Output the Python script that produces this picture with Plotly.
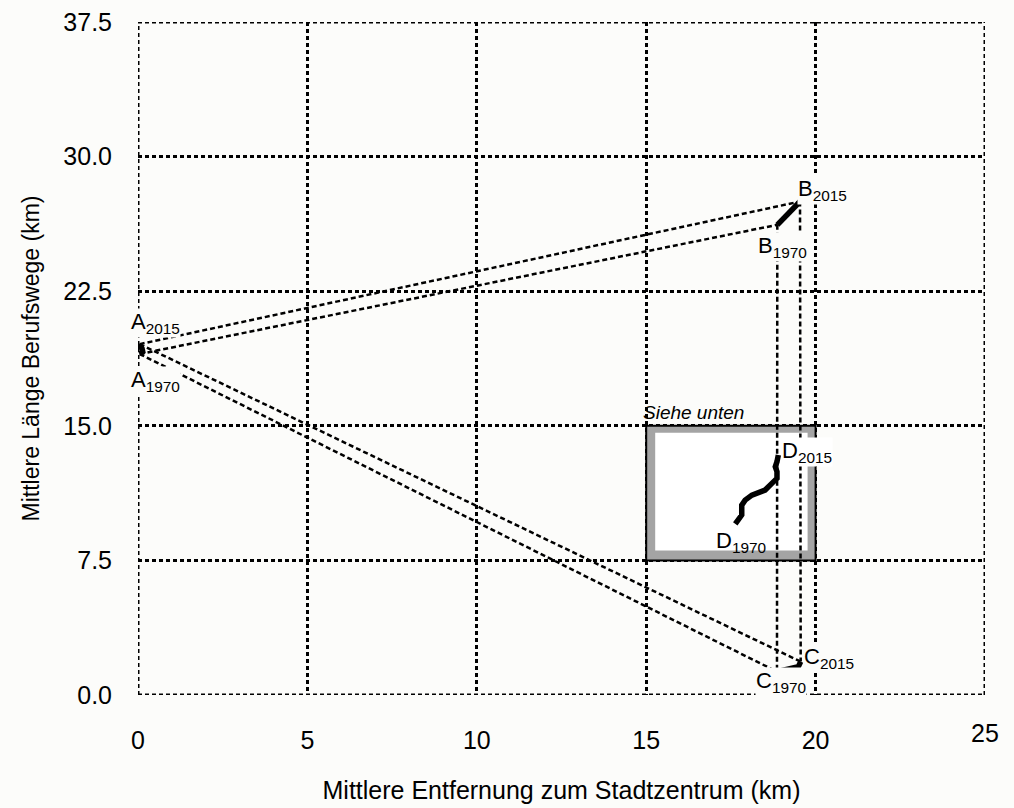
import plotly.graph_objects as go

# ---- data ----
a_x = [0.05, 0.14, 0.12, 0.04, 0.05]
a_y = [19.00, 19.12, 19.30, 19.45, 19.55]

b_x = [18.87, 19.00, 19.20, 19.35, 19.54]
b_y = [26.20, 26.45, 26.85, 27.15, 27.50]

c_x = [18.86, 19.25, 19.49, 19.56]
c_y = [1.30, 1.45, 1.58, 1.86]

d_x = [17.63, 17.82, 17.82, 17.92, 18.12, 18.31, 18.51, 18.71, 18.86, 18.86, 18.81, 18.86, 18.90]
d_y = [9.53, 10.03, 10.58, 10.86, 11.14, 11.24, 11.42, 11.79, 12.07, 12.44, 12.72, 13.00, 13.37]

box_x = [15, 20]
box_y = [7.5, 15]

x_tick_vals = [0, 5, 10, 15, 20, 25]
x_tick_text = ["0", "5", "10", "15", "20", ""]
y_tick_vals = [0, 7.5, 15, 22.5, 30, 37.5]
y_tick_text = ["0.0", "7.5", "15.0", "22.5", "30.0", "37.5"]

x_title = "Mittlere Entfernung zum Stadtzentrum (km)"
y_title = "Mittlere Länge Berufswege (km)"

BG = "#fcfcfa"
FONT = "Liberation Sans, Arial, sans-serif"
FS_TICK = 25
FS_XTITLE = 25
FS_YTITLE = 23
FS_LABEL = 22
GRID_DASH = "4px,3px"
GRID_W = 3

fig = go.Figure()

# connecting dashed lines (A->B, A->C, B->C)
dash = "5px,3px"
conn = [
    ((a_x[-1], a_y[-1]), (b_x[-1], b_y[-1])),
    ((a_x[0], a_y[0]), (b_x[0], b_y[0])),
    ((a_x[-1], a_y[-1]), (c_x[-1], c_y[-1])),
    ((a_x[0], a_y[0]), (c_x[0], c_y[0])),
    ((b_x[0], b_y[0]), (c_x[0], c_y[0])),
    ((b_x[-1], b_y[-1]), (c_x[-1], c_y[-1])),
]
for p, q in conn:
    fig.add_trace(go.Scatter(x=[p[0], q[0]], y=[p[1], q[1]], mode="lines",
                             line=dict(color="black", width=2.5, dash=dash),
                             hoverinfo="skip", showlegend=False))

# trajectories
for xs, ys in [(a_x, a_y), (b_x, b_y), (c_x, c_y), (d_x, d_y)]:
    fig.add_trace(go.Scatter(x=xs, y=ys, mode="lines",
                             line=dict(color="black", width=5.5),
                             hoverinfo="skip", showlegend=False))

# outer frame = gridlines at the range ends (plotly omits those)
for xv in (x_tick_vals[0], x_tick_vals[-1]):
    fig.add_shape(type="line", x0=xv, x1=xv, y0=y_tick_vals[0], y1=y_tick_vals[-1],
                  line=dict(color="black", width=GRID_W, dash=GRID_DASH), layer="between")
for yv in (y_tick_vals[0], y_tick_vals[-1]):
    fig.add_shape(type="line", x0=x_tick_vals[0], x1=x_tick_vals[-1], y0=yv, y1=yv,
                  line=dict(color="black", width=GRID_W, dash=GRID_DASH), layer="between")

# box "Siehe unten"
px_x = 847 / 25.0
px_y = 673 / 37.5
fig.add_shape(type="rect", x0=box_x[0], x1=box_x[1], y0=box_y[0], y1=box_y[1],
              fillcolor="#a4a4a4", line=dict(color="black", width=2), layer="between")
fig.add_shape(type="rect", x0=box_x[0] + 9 / px_x, x1=box_x[1] - 8 / px_x,
              y0=box_y[0] + 10 / px_y, y1=box_y[1] - 7 / px_y,
              fillcolor="white", line=dict(width=0), layer="between")

fig.add_annotation(x=box_x[0], y=box_y[1], text="<i>Siehe unten</i>", showarrow=False,
                   xanchor="left", yanchor="bottom", xshift=-5, yshift=1,
                   font=dict(family=FONT, size=19, color="black"))

# point labels
labels = [
    ("A", "2015", a_x[-1], a_y[-1], -10, 21, BG),
    ("A", "1970", a_x[0], a_y[0], -10, -27, BG),
    ("B", "2015", b_x[-1], b_y[-1], -3, 11, BG),
    ("B", "1970", b_x[0], b_y[0], -20, -22, BG),
    ("C", "2015", c_x[-1], c_y[-1], 2, 4, BG),
    ("C", "1970", c_x[0], c_y[0], -22, -10, BG),
    ("D", "2015", d_x[-1], d_y[-1], 3, 3, "white"),
    ("D", "1970", d_x[0], d_y[0], -20, -18, "rgba(0,0,0,0)"),
]
for letter, year, x, y, dx, dy, bg in labels:
    fig.add_annotation(x=x, y=y, text=f"{letter}<sub>{year}</sub>", showarrow=False,
                       xanchor="left", yanchor="middle", xshift=dx, yshift=dy,
                       bgcolor=bg, borderpad=0,
                       font=dict(family=FONT, size=FS_LABEL, color="black"))

# the "25" tick label sits a little higher in the reference
fig.add_annotation(x=x_tick_vals[-1], y=0, xref="x", yref="paper", text="25", showarrow=False,
                   xanchor="center", yanchor="top", yshift=-22,
                   font=dict(family=FONT, size=FS_TICK, color="black"))

fig.update_layout(
    width=1014, height=808,
    margin=dict(l=138, r=29, t=22, b=113),
    paper_bgcolor=BG, plot_bgcolor=BG,
    font=dict(family=FONT, size=FS_TICK, color="black"),
    showlegend=False,
)
fig.update_xaxes(range=[x_tick_vals[0], x_tick_vals[-1]], tickvals=x_tick_vals, ticktext=x_tick_text,
                 showgrid=True, gridcolor="black", gridwidth=GRID_W, griddash=GRID_DASH,
                 zeroline=False, showline=False,
                 ticks="outside", ticklen=23, tickcolor="rgba(0,0,0,0)",
                 tickfont=dict(family=FONT, size=FS_TICK),
                 title=dict(text=x_title, standoff=28, font=dict(family=FONT, size=FS_XTITLE)),
                 automargin=False)
fig.update_yaxes(range=[y_tick_vals[0], y_tick_vals[-1]], tickvals=y_tick_vals, ticktext=y_tick_text,
                 showgrid=True, gridcolor="black", gridwidth=GRID_W, griddash=GRID_DASH,
                 zeroline=False, showline=False,
                 ticks="outside", ticklen=20, tickcolor="rgba(0,0,0,0)",
                 tickfont=dict(family=FONT, size=FS_TICK),
                 title=dict(text=y_title, standoff=17, font=dict(family=FONT, size=FS_YTITLE)),
                 automargin=False)

fig.write_html("out.html")
